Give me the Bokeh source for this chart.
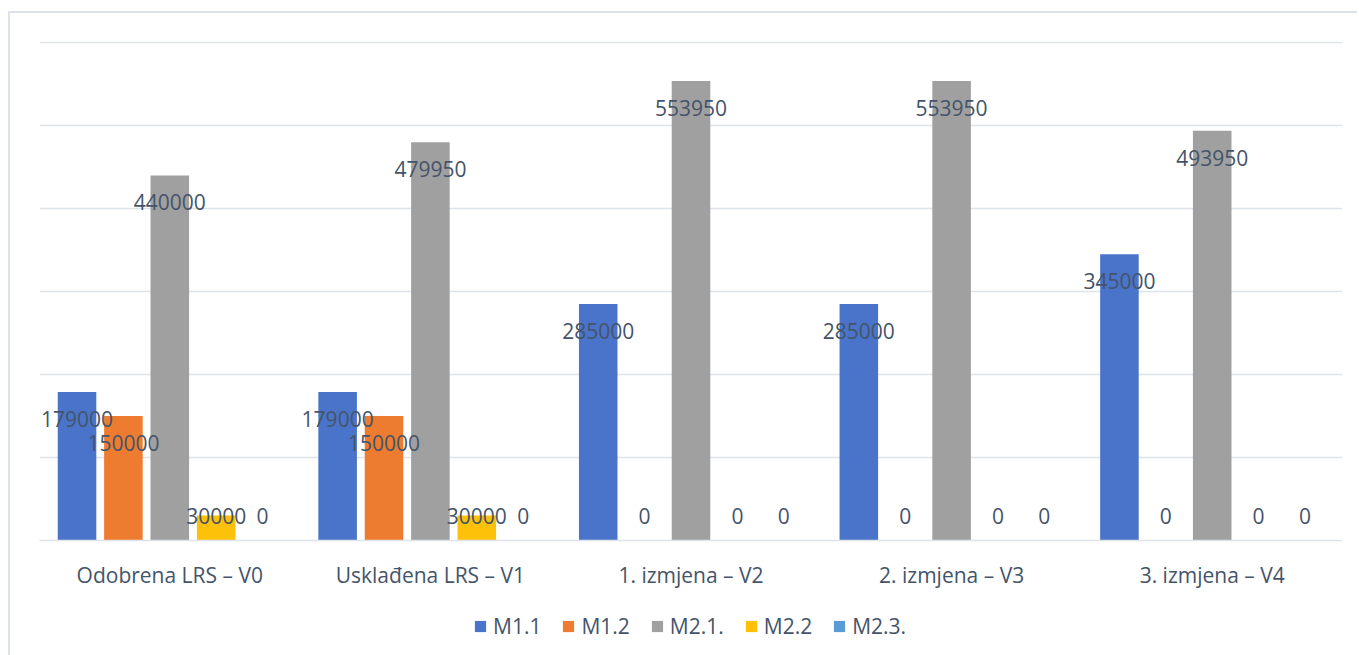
from bokeh.plotting import figure
from bokeh.layouts import column
from bokeh.models import ColumnDataSource, FactorRange, Legend, LegendItem, FixedTicker, Range1d
from bokeh.transform import dodge
from bokeh.core.properties import value
from bokeh.embed import file_html
from bokeh.resources import INLINE

categories = ["Odobrena LRS – V0", "Usklađena LRS – V1", "1. izmjena – V2", "2. izmjena – V3", "3. izmjena – V4"]
series_names = ["M1.1", "M1.2", "M2.1.", "M2.2", "M2.3."]
m11 = [179000, 179000, 285000, 285000, 345000]
m12 = [150000, 150000, 0, 0, 0]
m21 = [440000, 479950, 553950, 553950, 493950]
m22 = [30000, 30000, 0, 0, 0]
m23 = [0, 0, 0, 0, 0]
series_values = [m11, m12, m21, m22, m23]
colors = ["#4A74C9", "#EE7C30", "#A0A0A0", "#FDC10A", "#5B9BD5"]
y_ticks = [0, 100000, 200000, 300000, 400000, 500000, 600000]

FONT = "Open Sans"
TXT = "#44546A"
FS = "21px"

p = figure(x_range=FactorRange(*categories, range_padding=0), y_range=(0, 601500),
           frame_width=1303, frame_height=499, output_backend="svg", toolbar_location=None,
           min_border_left=29, min_border_right=15, min_border_top=28, min_border_bottom=0)
p.outline_line_color = None
p.background_fill_color = "white"
p.border_fill_color = "white"

p.yaxis.visible = False
p.yaxis.ticker = FixedTicker(ticks=y_ticks)
p.ygrid.ticker = FixedTicker(ticks=y_ticks)
p.ygrid.grid_line_color = "#DEE2E9"
p.ygrid.grid_line_width = 1.5
p.xgrid.grid_line_color = None

p.xaxis.axis_line_color = "#DEE2E9"
p.xaxis.axis_line_width = 1.5
p.xaxis.major_tick_line_color = None
p.xaxis.minor_tick_line_color = None
p.xaxis.major_label_text_font = FONT
p.xaxis.major_label_text_font_size = FS
p.xaxis.major_label_text_color = TXT
p.xaxis.major_label_standoff = 14

bar_w = 0.148
step = 0.178
offsets = [(-2 + i) * step for i in range(5)]

sources = []
for name, vals, col, off in zip(series_names, series_values, colors, offsets):
    label_y = [max(v - 32500, 29000) for v in vals]
    src = ColumnDataSource(dict(cat=categories, v=vals, ly=label_y, t=[str(v) for v in vals]))
    sources.append((src, off))
    p.vbar(x=dodge("cat", off, range=p.x_range), top="v", width=bar_w, source=src,
           fill_color=col, line_color=None)

for src, off in sources:
    p.text(x=dodge("cat", off, range=p.x_range), y="ly", text="t", source=src,
           text_align="center", text_baseline="middle", text_font=value(FONT),
           text_font_size=FS, text_color=TXT)

# legend strip below the chart (legend-only swatches, placed outside the visible range)
lf = figure(width=1347, height=68, x_range=Range1d(0, 1), y_range=Range1d(0, 1),
            output_backend="svg", toolbar_location=None,
            min_border_left=0, min_border_right=0, min_border_top=0, min_border_bottom=0)
lf.axis.visible = False
lf.grid.visible = False
lf.outline_line_color = None
lf.background_fill_color = "white"
lf.border_fill_color = "white"

items = []
for name, col in zip(series_names, colors):
    r = lf.vbar(x=[-10], top=[0], width=0.1, fill_color=col, line_color=None)
    items.append(LegendItem(label=name, renderers=[r]))

legend = Legend(items=items, orientation="horizontal", location=(434, 19),
                glyph_width=14, glyph_height=14, label_standoff=6, spacing=20,
                label_text_font=FONT, label_text_font_size=FS, label_text_color=TXT,
                border_line_color=None, background_fill_alpha=0, padding=4, margin=0)
lf.add_layout(legend, "center")

layout = column(p, lf, spacing=0)
layout.styles = {"border-left": "2px solid #DDE1E8", "border-top": "2px solid #DDE1E8",
                 "margin-top": "11px", "margin-left": "8px"}

open("out.html", "w").write(file_html(layout, INLINE))
